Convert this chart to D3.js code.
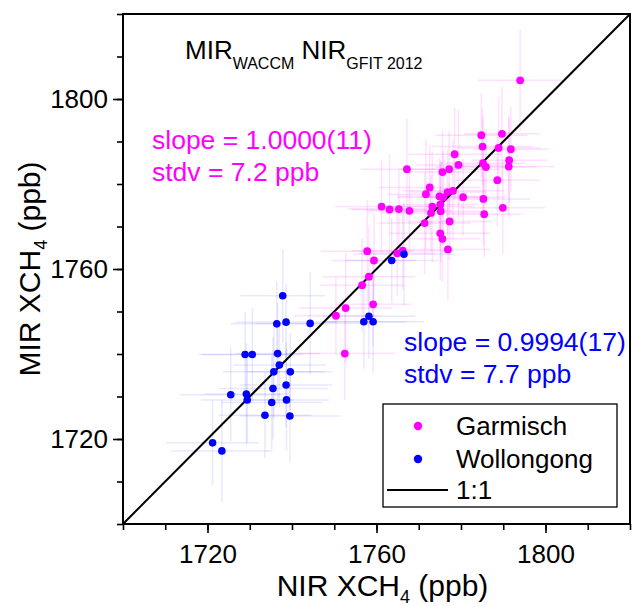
<!DOCTYPE html>
<html>
<head>
<meta charset="utf-8">
<script src="https://cdn.jsdelivr.net/npm/d3@7.9.0/dist/d3.min.js"></script>
<style>
  body { margin: 0; background: #fff; }
  svg { font-family: "Liberation Sans", Arial, sans-serif; }
</style>
</head>
<body>
<svg id="chart" width="632" height="606"></svg>
<script>
// Garmisch: NIR (x) vs MIR (y), with estimated error bars
const garmischNIR = [1794.0, 1784.8, 1789.7, 1785.1, 1788.9, 1791.8, 1778.5, 1779.4, 1777.2, 1775.6,
  1767.2, 1785.2, 1785.9, 1791.4, 1791.3, 1788.6, 1772.6, 1771.7, 1774.9, 1775.8,
  1776.8, 1778.1, 1780.5, 1785.3, 1773.2, 1775.1, 1772.9, 1775.2, 1789.9, 1785.5,
  1771.4, 1777.3, 1775.1, 1775.6, 1776.9, 1761.2, 1763.1, 1765.3, 1767.8, 1757.8,
  1759.4, 1764.9, 1766.2, 1758.2, 1756.6, 1759.2, 1752.7, 1750.4, 1752.5];
const garmischMIR = [1804.4, 1791.5, 1791.8, 1788.8, 1788.5, 1788.2, 1787.0, 1784.5, 1783.5, 1782.8,
  1783.5, 1784.9, 1784.0, 1785.6, 1784.1, 1780.9, 1779.2, 1777.6, 1777.1, 1776.8,
  1778.1, 1778.4, 1776.9, 1776.5, 1774.7, 1775.2, 1773.2, 1773.6, 1774.4, 1772.9,
  1770.8, 1771.2, 1768.4, 1767.1, 1764.6, 1774.7, 1774.0, 1774.1, 1773.7, 1764.2,
  1762.0, 1763.7, 1764.3, 1758.2, 1756.2, 1751.7, 1750.8, 1749.0, 1740.1];
const garmischNIRErr = [10, 11, 9, 12, 10, 9, 11, 10, 12, 9,
  11, 10, 12, 9, 11, 10, 12, 9, 10, 11,
  9, 12, 10, 11, 10, 9, 12, 11, 10, 9,
  11, 10, 12, 9, 10, 11, 9, 12, 10, 11,
  10, 9, 12, 11, 10, 9, 11, 10, 12];
const garmischMIRErr = [12, 10, 11, 9, 12, 10, 11, 13, 9, 10,
  12, 11, 9, 10, 12, 11, 10, 13, 9, 11,
  10, 12, 9, 11, 13, 10, 9, 12, 11, 10,
  12, 9, 11, 10, 12, 11, 13, 9, 10, 12,
  11, 10, 9, 12, 11, 10, 13, 9, 11];

// Wollongong
const wollongongNIR = [1763.6, 1766.5, 1737.8, 1736.4, 1738.6, 1744.3, 1757.0, 1758.2, 1759.2, 1728.9,
  1730.6, 1736.6, 1737.0, 1735.7, 1739.6, 1735.5, 1738.6, 1725.5, 1729.2, 1729.4,
  1735.2, 1738.7, 1733.6, 1739.5, 1721.2, 1723.4];
const wollongongMIR = [1762.0, 1763.5, 1753.7, 1747.1, 1747.5, 1747.2, 1747.6, 1748.9, 1747.6, 1739.9,
  1739.9, 1740.1, 1737.4, 1735.8, 1735.8, 1731.9, 1732.7, 1730.4, 1730.6, 1729.2,
  1728.6, 1729.2, 1725.6, 1725.4, 1719.1, 1717.2];
const wollongongNIRErr = [11, 12, 10, 11, 12, 13, 10, 11, 12, 11,
  12, 10, 11, 12, 10, 13, 11, 12, 10, 11,
  12, 10, 11, 12, 11, 12];
const wollongongMIRErr = [10, 12, 11, 10, 9, 12, 11, 10, 12, 10,
  11, 12, 10, 11, 9, 12, 10, 11, 12, 10,
  11, 12, 10, 11, 10, 12];

const domain = [1700, 1820];
const majorTicks = [1720, 1760, 1800];
const minorTicks = d3.range(1700, 1821, 10);

const svg = d3.select('#chart');
const plotLeft = 123, plotRight = 630, plotTop = 14, plotBottom = 524;
const x = d3.scaleLinear().domain(domain).range([plotLeft, plotRight]);
const y = d3.scaleLinear().domain(domain).range([plotBottom, plotTop]);

function series(nir, mir, nirErr, mirErr) {
  return nir.map((v, i) => ({ x: v, y: mir[i], ex: nirErr[i], ey: mirErr[i] }));
}
const garmisch = series(garmischNIR, garmischMIR, garmischNIRErr, garmischMIRErr);
const wollongong = series(wollongongNIR, wollongongMIR, wollongongNIRErr, wollongongMIRErr);

svg.append('clipPath').attr('id', 'plotClip')
  .append('rect').attr('x', plotLeft).attr('y', plotTop)
  .attr('width', plotRight - plotLeft).attr('height', plotBottom - plotTop);

const plot = svg.append('g').attr('clip-path', 'url(#plotClip)');

// error bars
function drawErrors(data, color) {
  const g = plot.append('g').attr('stroke', color).attr('stroke-width', 1.5);
  data.forEach(d => {
    g.append('line').attr('x1', x(d.x - d.ex)).attr('x2', x(d.x + d.ex))
      .attr('y1', y(d.y)).attr('y2', y(d.y));
    g.append('line').attr('x1', x(d.x)).attr('x2', x(d.x))
      .attr('y1', y(d.y - d.ey)).attr('y2', y(d.y + d.ey));
  });
}
drawErrors(wollongong, 'rgba(0,0,255,0.09)');
drawErrors(garmisch, 'rgba(255,0,255,0.12)');

// 1:1 line
plot.append('line')
  .attr('x1', x(domain[0])).attr('y1', y(domain[0]))
  .attr('x2', x(domain[1])).attr('y2', y(domain[1]))
  .attr('stroke', '#000').attr('stroke-width', 2);

plot.append('g').selectAll('circle').data(garmisch).join('circle')
  .attr('cx', d => x(d.x)).attr('cy', d => y(d.y)).attr('r', 3.9).attr('fill', '#ff00ff');
plot.append('g').selectAll('circle').data(wollongong).join('circle')
  .attr('cx', d => x(d.x)).attr('cy', d => y(d.y)).attr('r', 3.8).attr('fill', '#0000ff');

// axes
function styleAxis(g) {
  g.select('.domain').remove();
  g.selectAll('line').attr('stroke', '#000').attr('stroke-width', 1.6);
  g.selectAll('text').attr('font-size', 26).attr('fill', '#000')
    .attr('font-family', '"Liberation Sans", Arial, sans-serif');
}
svg.append('g').attr('transform', `translate(0,${plotBottom})`)
  .call(d3.axisBottom(x).tickValues(minorTicks).tickSize(6).tickFormat(''))
  .call(styleAxis);
svg.append('g').attr('transform', `translate(0,${plotBottom})`)
  .call(d3.axisBottom(x).tickValues(majorTicks).tickSize(9).tickPadding(12).tickFormat(d3.format('d')))
  .call(styleAxis);
svg.append('g').attr('transform', `translate(${plotLeft},0)`)
  .call(d3.axisLeft(y).tickValues(minorTicks).tickSize(6).tickFormat(''))
  .call(styleAxis);
svg.append('g').attr('transform', `translate(${plotLeft},0)`)
  .call(d3.axisLeft(y).tickValues(majorTicks).tickSize(10).tickPadding(5).tickFormat(d3.format('d')))
  .call(styleAxis);

svg.append('rect').attr('x', plotLeft).attr('y', plotTop)
  .attr('width', plotRight - plotLeft).attr('height', plotBottom - plotTop)
  .attr('fill', 'none').attr('stroke', '#000').attr('stroke-width', 2);

// axis titles
const xt = svg.append('text').attr('x', (plotLeft + plotRight) / 2 + 6).attr('y', 596)
  .attr('text-anchor', 'middle').attr('font-size', 30);
xt.append('tspan').text('NIR XCH');
xt.append('tspan').attr('font-size', 18).attr('dy', 7).text('4');
xt.append('tspan').attr('dy', -7).text(' (ppb)');

const yt = svg.append('text').attr('transform', `translate(40,${(plotTop + plotBottom) / 2}) rotate(-90)`)
  .attr('text-anchor', 'middle').attr('font-size', 30);
yt.append('tspan').text('MIR XCH');
yt.append('tspan').attr('font-size', 18).attr('dy', 7).text('4');
yt.append('tspan').attr('dy', -7).text(' (ppb)');

// title
const title = svg.append('text').attr('x', 185).attr('y', 59).attr('font-size', 26);
title.append('tspan').text('MIR');
title.append('tspan').attr('font-size', 16).attr('dy', 10).text('WACCM');
title.append('tspan').attr('dy', -10).text(' NIR');
title.append('tspan').attr('font-size', 16).attr('dy', 10).text('GFIT 2012');

// statistics
const statSize = 26.5;
svg.append('text').attr('x', 152).attr('y', 149).attr('font-size', statSize).attr('fill', '#ff00ff')
  .text('slope = 1.0000(11)');
svg.append('text').attr('x', 152).attr('y', 181).attr('font-size', statSize).attr('fill', '#ff00ff')
  .text('stdv = 7.2 ppb');
svg.append('text').attr('x', 404).attr('y', 351).attr('font-size', statSize).attr('fill', '#0000ff')
  .text('slope = 0.9994(17)');
svg.append('text').attr('x', 404).attr('y', 383).attr('font-size', statSize).attr('fill', '#0000ff')
  .text('stdv = 7.7 ppb');

// legend
const legend = svg.append('g');
legend.append('rect').attr('x', 383).attr('y', 404).attr('width', 234).attr('height', 103)
  .attr('fill', '#fff').attr('stroke', '#000').attr('stroke-width', 1.3);
const legendItems = [
  { label: 'Garmisch', color: '#ff00ff' },
  { label: 'Wollongong', color: '#0000ff' }
];
legendItems.forEach((d, i) => {
  const cy = 426 + i * 33;
  legend.append('circle').attr('cx', 418).attr('cy', cy).attr('r', 4.2).attr('fill', d.color);
  legend.append('text').attr('x', 456).attr('y', cy + 9).attr('font-size', 26).text(d.label);
});
legend.append('line').attr('x1', 387).attr('x2', 448).attr('y1', 490).attr('y2', 490)
  .attr('stroke', '#000').attr('stroke-width', 2);
legend.append('text').attr('x', 456).attr('y', 499).attr('font-size', 26).text('1:1');
</script>
</body>
</html>
